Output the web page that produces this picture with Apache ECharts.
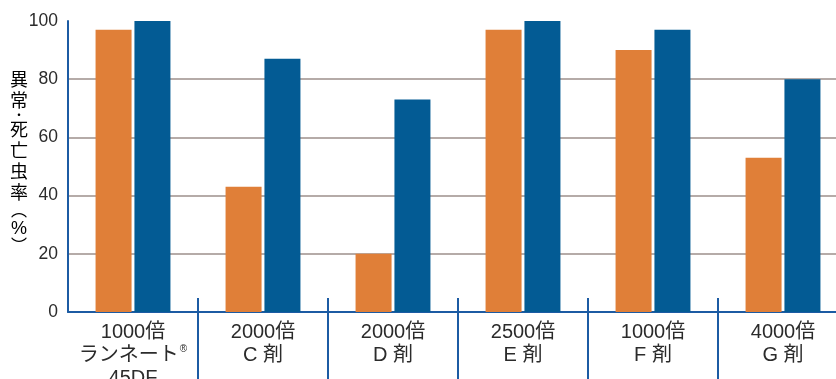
<!DOCTYPE html>
<html><head><meta charset="utf-8">
<script src="https://cdn.jsdelivr.net/npm/echarts@6/dist/echarts.min.js"></script>
<style>html,body{margin:0;padding:0;background:#fff}#c{width:836px;height:379px}</style>
</head><body><div id="c"></div>
<script>
const categories = ['1000倍|ランネート|45DF', '2000倍|C 剤', '2000倍|D 剤', '2500倍|E 剤', '1000倍|F 剤', '4000倍|G 剤'];
const orangeValues = [97, 43, 20, 97, 90, 53];
const blueValues = [100, 87, 73, 100, 97, 80];
const yTicks = [0, 20, 40, 60, 80, 100];
const yTitle = ['異', '常', '・', '死', '亡', '虫', '率', '︵', '%', '︶'];

const FONT = '"Liberation Sans", "Noto Sans CJK JP", sans-serif';
const AXIS = '#1c5ba3';
const GRID = '#b5aba8';
const chart = echarts.init(document.getElementById('c'));

function fmtCat(v) {
  const parts = v.split('|');
  return parts.map((p, i) => (i === 1 && parts.length === 3) ? '{a|' + p + '}{s|®}' : '{a|' + p + '}').join('\n');
}

chart.setOption({
  animation: false,
  grid: { left: 68, top: 21, bottom: 67, right: -12, outerBoundsMode: 'none', containLabel: false },
  xAxis: [{
    type: 'category', data: categories,
    axisLine: { lineStyle: { color: AXIS, width: 2 } },
    axisTick: { show: true, length: 75, lineStyle: { color: AXIS, width: 2 }, interval: (i) => i > 0 },
    axisLabel: {
      margin: 9, formatter: fmtCat, interval: 0,
      rich: {
        a: { fontFamily: FONT, fontSize: 20, color: '#2b2b2b', lineHeight: 23 },
        s: { fontFamily: FONT, fontSize: 10, color: '#2b2b2b', verticalAlign: 'top', lineHeight: 23, padding: [0, 0, 10, 1] }
      }
    }
  }, {
    type: 'category', data: categories, position: 'bottom',
    axisLine: { show: false },
    axisTick: { show: true, inside: true, length: 14, lineStyle: { color: AXIS, width: 2 }, interval: (i) => i > 0 },
    axisLabel: { show: false }
  }],
  yAxis: {
    type: 'value', min: 0, max: 100, interval: 20,
    axisLine: { show: true, lineStyle: { color: AXIS, width: 2 } },
    axisTick: { show: false },
    axisLabel: { fontFamily: FONT, fontSize: 17.5, color: '#2b2b2b', margin: 10 },
    splitLine: { show: true, lineStyle: { width: 2, color: yTicks.map(v => (v === 0 || v === 100) ? 'rgba(0,0,0,0)' : GRID) } }
  },
  graphic: [{
    type: 'text', left: 10, top: 72,
    style: {
      text: yTitle.map(c => c === '・' ? '{d|' + c + '}' : (c === '︵' || c === '︶') ? '{p|' + c + '}' : '{a|' + c + '}').join('\n'),
      align: 'center',
      rich: {
        a: { fontFamily: FONT, fontSize: 18, color: '#2b2b2b', lineHeight: 21, align: 'center' },
        d: { fontFamily: FONT, fontSize: 12, color: '#2b2b2b', lineHeight: 8, align: 'center' },
        p: { fontFamily: FONT, fontSize: 16, color: '#2b2b2b', lineHeight: 14, align: 'center' }
      }
    }
  }],
  series: [{
    type: 'bar', data: orangeValues, barWidth: 36, barGap: '8%',
    itemStyle: { color: '#e07f38' }, z: 3
  }, {
    type: 'bar', data: blueValues, barWidth: 36,
    itemStyle: { color: '#035b94' }, z: 3
  }]
});
</script></body></html>
